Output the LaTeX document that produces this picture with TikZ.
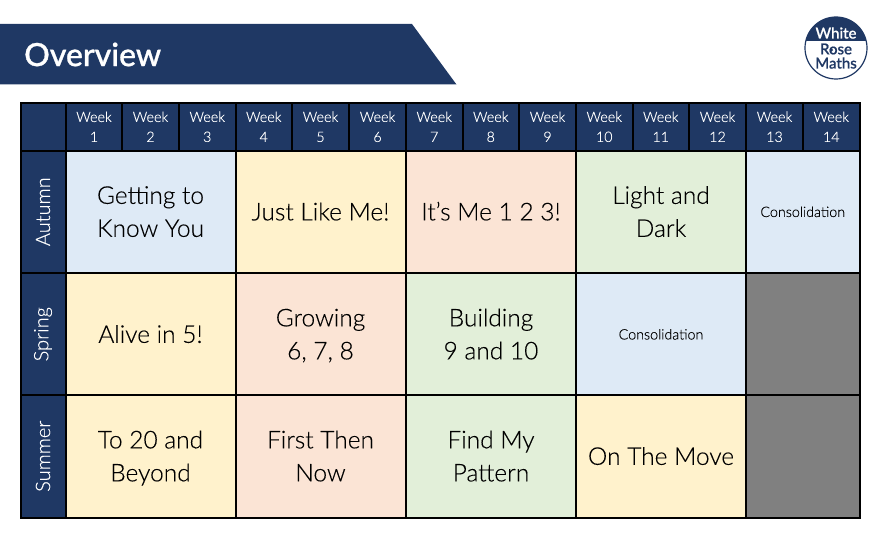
\documentclass[tikz,border=0pt]{standalone}
\usepackage{fontspec}
\setmainfont{Lato}
\newfontfamily\lightfont[FakeBold=0.2]{Lato Light}
\newfontfamily\medfont[FakeBold=0.9]{Lato Medium}
\definecolor{navy}{HTML}{1F3864}
\definecolor{cblue}{HTML}{DEEAF6}
\definecolor{cyellow}{HTML}{FFF2CC}
\definecolor{cpink}{HTML}{FBE4D5}
\definecolor{cgreen}{HTML}{E2EFD9}
\definecolor{cgrey}{HTML}{808080}
\newcommand\topictext[1]{\raisebox{-2pt}[\height][\depth]{\begin{tabular}{@{}c@{}}#1\end{tabular}}}
\tikzset{
  cellbox/.style={draw=black,line width=2pt,inner sep=0pt,outer sep=0pt,anchor=north west,align=center,text=black,font=\lightfont\fontsize{24.5pt}{33pt}\selectfont},
  weekbox/.style={cellbox,fill=navy,text=white,minimum height=47.5pt,font=\lightfont\fontsize{14.3pt}{20pt}\selectfont},
  termbox/.style={cellbox,fill=navy,minimum width=45pt,minimum height=122.5pt},
  termlabel/.style={text=white,rotate=90,font=\lightfont\fontsize{20pt}{22pt}\selectfont,inner sep=0pt},
  topicbox/.style={cellbox,minimum width=170pt,minimum height=122.5pt},
  smalltopic/.style={font=\lightfont\fontsize{14.3pt}{16pt}\selectfont},
  logotext/.style={inner sep=0pt,font=\medfont\fontsize{15pt}{15pt}\selectfont},
}
\begin{document}
\begin{tikzpicture}[x=1pt,y=-1pt]
\useasboundingbox (0,0) rectangle (879,543);
% banner
\fill[navy] (0,24) -- (412,24) -- (456.5,84.5) -- (0,84.5) -- cycle;
\node[text=white,anchor=west,inner sep=0pt,font=\medfont\fontsize{32pt}{33pt}\selectfont] (title) at (24,54.5) {Overview};
% logo
\begin{scope}
\clip (836,48) circle (31pt);
\fill[white] (805,17) rectangle (867,79);
\fill[navy] (805,17) rectangle (867,41.5);
\end{scope}
\draw[navy,line width=1.2pt] (836,48) circle (31pt);
\node[logotext,text=white] (logoa) at (836,33) {White};
\node[logotext,text=navy] (logob) at (836,49) {Rose};
\node[logotext,text=navy] (logoc) at (836,63) {Maths};
\fill[navy] (831.5,50) circle (1.6pt);
% header
\node[weekbox,minimum width=45pt] (corner) at (20.5,103) {};
\foreach \n/\x/\w in {1/65.5/57,2/122/57,3/179/56.5,4/235.5/56.5,5/292/57,6/349/57,7/406/56.5,8/462.5/56.5,9/519/57,10/576/56.5,11/632.5/56.5,12/689/57,13/746/57,14/803/56.5}{
  \node[weekbox,minimum width=\w pt] (w\n) at (\x,103) {Week\\\n};
}
% term column
\node[termbox] (autumn) at (20.5,150.5) {};
\node[termlabel] (autumnl) at (autumn.center) {Autumn};
\node[termbox] (spring) at (20.5,273) {};
\node[termlabel] (springl) at (spring.center) {Spring};
\node[termbox] (summer) at (20.5,395) {};
\node[termlabel] (summerl) at (summer.center) {Summer};
% Autumn
\node[topicbox,fill=cblue] (a1) at (65.5,150.5) {\topictext{Getting to\\Know You}};
\node[topicbox,fill=cyellow] (a2) at (235.5,150.5) {\topictext{Just Like Me!}};
\node[topicbox,fill=cpink] (a3) at (406,150.5) {\topictext{It’s Me 1 2 3!}};
\node[topicbox,fill=cgreen] (a4) at (576,150.5) {\topictext{Light and\\Dark}};
\node[topicbox,smalltopic,fill=cblue,minimum width=113.5pt] (a5) at (746,150.5) {\topictext{Consolidation}};
% Spring
\node[topicbox,fill=cyellow] (s1) at (65.5,273) {\topictext{Alive in 5!}};
\node[topicbox,fill=cpink] (s2) at (235.5,273) {\topictext{Growing\\6, 7, 8}};
\node[topicbox,fill=cgreen] (s3) at (406,273) {\topictext{Building\\9 and 10}};
\node[topicbox,smalltopic,fill=cblue] (s4) at (576,273) {\topictext{Consolidation}};
\node[topicbox,fill=cgrey,minimum width=113.5pt] (s5) at (746,273) {};
% Summer
\node[topicbox,fill=cyellow] (u1) at (65.5,395) {\topictext{To 20 and\\Beyond}};
\node[topicbox,fill=cpink] (u2) at (235.5,395) {\topictext{First Then\\Now}};
\node[topicbox,fill=cgreen] (u3) at (406,395) {\topictext{Find My\\Pattern}};
\node[topicbox,fill=cyellow] (u4) at (576,395) {\topictext{On The Move}};
\node[topicbox,fill=cgrey,minimum width=113.5pt] (u5) at (746,395) {};
\end{tikzpicture}
\end{document}
